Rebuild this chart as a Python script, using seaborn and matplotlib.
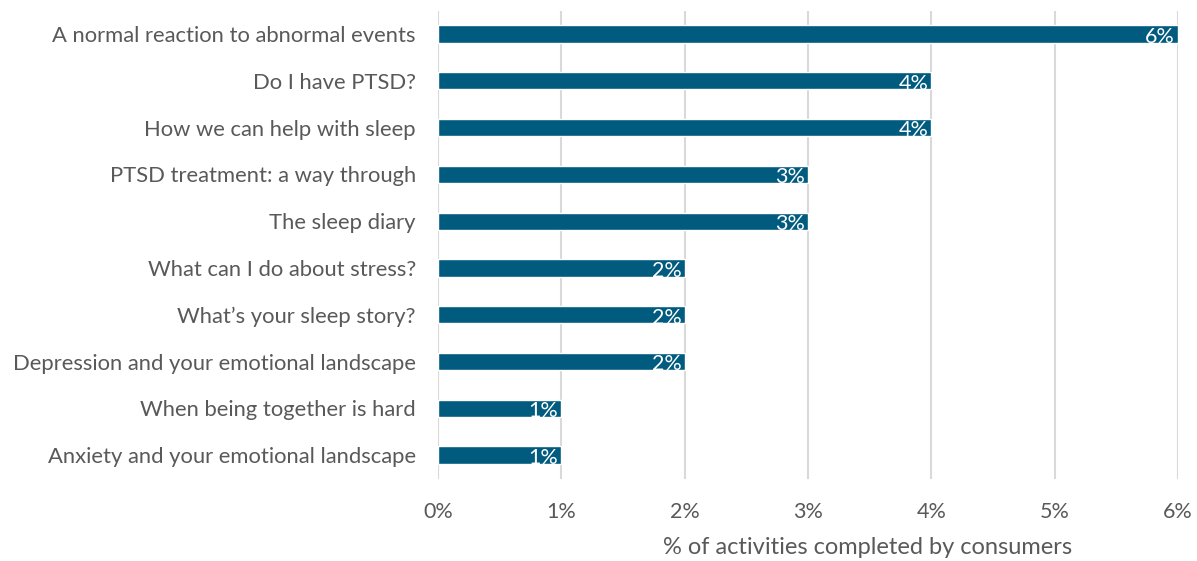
import matplotlib
matplotlib.use("Agg")
import matplotlib.pyplot as plt
import seaborn as sns
import pandas as pd
from matplotlib.ticker import FuncFormatter

categories = [
    "A normal reaction to abnormal events",
    "Do I have PTSD?",
    "How we can help with sleep",
    "PTSD treatment: a way through",
    "The sleep diary",
    "What can I do about stress?",
    "What\u2019s your sleep story?",
    "Depression and your emotional landscape",
    "When being together is hard",
    "Anxiety and your emotional landscape",
]
values = [6, 4, 4, 3, 3, 2, 2, 2, 1, 1]
x_ticks = [0, 1, 2, 3, 4, 5, 6]
x_label = "% of activities completed by consumers"

df = pd.DataFrame({"activity": categories, "pct": values})

sns.set_theme(style="white")
plt.rcParams["font.family"] = ["Lato", "DejaVu Sans"]

text_color = "#595959"
bar_color = "#005B7F"

fig = plt.figure(figsize=(11.97, 5.61), dpi=100)
ax = fig.add_axes([0.366, 0.147, 0.618, 0.834])

sns.barplot(data=df, x="pct", y="activity", orient="h", color=bar_color,
            width=0.37, saturation=1, ax=ax, order=categories)

ax.set_xlim(0, 6)
ax.set_ylim(len(categories) - 0.5, -0.5)
ax.set_xticks(x_ticks)
ax.xaxis.set_major_formatter(FuncFormatter(lambda v, p: f"{v:.0f}%"))
ax.grid(axis="x", color="#D9D9D9", linewidth=1.5)
ax.set_axisbelow(True)
for s in ax.spines.values():
    s.set_visible(False)
ax.tick_params(axis="x", length=0, labelsize=15.5, labelcolor=text_color, pad=17)
ax.tick_params(axis="y", length=0, labelsize=15.8, labelcolor=text_color, pad=16)
ax.set_ylabel("")
ax.set_xlabel(x_label, fontsize=17, color=text_color)
ax.xaxis.set_label_coords(0.58, -0.125)

for i, v in enumerate(values):
    ax.text(v - 0.025, i + 0.06, f"{v}%", color="white", fontsize=15.5,
            ha="right", va="center")

fig.savefig("out.png", dpi=100)
